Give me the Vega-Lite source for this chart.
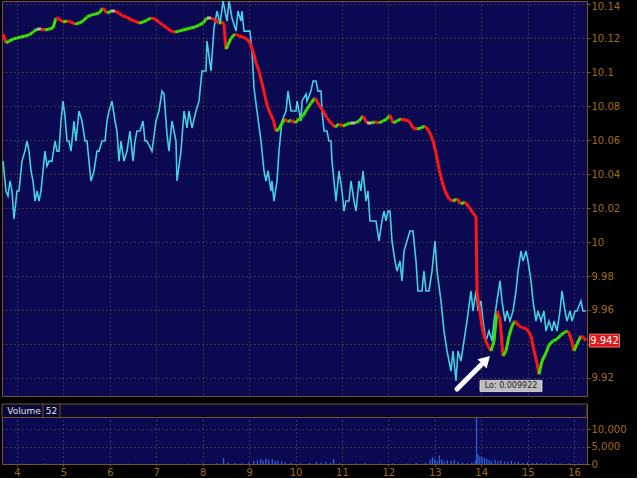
{
  "$schema": "https://vega.github.io/schema/vega-lite/v6.json",
  "background": "#000000",
  "padding": {"left": 1, "top": 0, "right": 10, "bottom": 0},
  "spacing": 6,
  "config": {
    "view": {"fill": "#0b0952", "stroke": "#7a5520", "strokeWidth": 1},
    "axis": {"labelFont": "DejaVu Sans", "labelFontSize": 10, "labelColor": "#a06b14", "tickColor": "#7a5520", "domainColor": "#7a5520", "gridColor": "#6e5a3c", "gridDash": [1, 3], "gridWidth": 1, "labelOverlap": false, "labelBound": false}
  },
  "datasets": {
    "price": [
      {"t":3.698,"price":10.1224},{"t":3.763,"price":10.1171},{"t":3.828,"price":10.1182},{"t":3.914,"price":10.1194},{"t":4.0,"price":10.12},{"t":4.086,"price":10.1206},{"t":4.172,"price":10.1212},{"t":4.259,"price":10.1218},{"t":4.345,"price":10.1235},{"t":4.431,"price":10.1253},{"t":4.517,"price":10.1253},{"t":4.603,"price":10.1247},{"t":4.689,"price":10.1253},{"t":4.776,"price":10.1259},{"t":4.84,"price":10.1318},{"t":4.905,"price":10.1312},{"t":4.991,"price":10.1294},{"t":5.077,"price":10.13},{"t":5.163,"price":10.1294},{"t":5.249,"price":10.1282},{"t":5.336,"price":10.1288},{"t":5.422,"price":10.13},{"t":5.508,"price":10.1324},{"t":5.594,"price":10.1335},{"t":5.68,"price":10.1341},{"t":5.766,"price":10.1347},{"t":5.853,"price":10.1376},{"t":5.939,"price":10.1347},{"t":6.025,"price":10.1359},{"t":6.111,"price":10.1359},{"t":6.197,"price":10.1347},{"t":6.283,"price":10.1329},{"t":6.37,"price":10.1324},{"t":6.456,"price":10.1306},{"t":6.542,"price":10.13},{"t":6.628,"price":10.1288},{"t":6.714,"price":10.1294},{"t":6.801,"price":10.1306},{"t":6.887,"price":10.1318},{"t":6.973,"price":10.1312},{"t":7.059,"price":10.1294},{"t":7.145,"price":10.1276},{"t":7.231,"price":10.1259},{"t":7.318,"price":10.1241},{"t":7.404,"price":10.1235},{"t":7.49,"price":10.1241},{"t":7.576,"price":10.1247},{"t":7.662,"price":10.1253},{"t":7.748,"price":10.1259},{"t":7.835,"price":10.1265},{"t":7.921,"price":10.1276},{"t":8.007,"price":10.1288},{"t":8.093,"price":10.1318},{"t":8.179,"price":10.1318},{"t":8.265,"price":10.1306},{"t":8.352,"price":10.1288},{"t":8.416,"price":10.1294},{"t":8.459,"price":10.1282},{"t":8.502,"price":10.1135},{"t":8.545,"price":10.1159},{"t":8.61,"price":10.12},{"t":8.696,"price":10.1224},{"t":8.782,"price":10.1212},{"t":8.869,"price":10.1206},{"t":8.955,"price":10.1194},{"t":9.019,"price":10.1171},{"t":9.084,"price":10.1124},{"t":9.149,"price":10.1053},{"t":9.213,"price":10.1006},{"t":9.278,"price":10.0935},{"t":9.342,"price":10.0859},{"t":9.386,"price":10.0806},{"t":9.45,"price":10.0759},{"t":9.515,"price":10.0724},{"t":9.58,"price":10.0653},{"t":9.644,"price":10.0665},{"t":9.709,"price":10.07},{"t":9.773,"price":10.0724},{"t":9.838,"price":10.0706},{"t":9.903,"price":10.0718},{"t":9.989,"price":10.07},{"t":10.075,"price":10.0724},{"t":10.161,"price":10.0741},{"t":10.247,"price":10.0782},{"t":10.333,"price":10.0818},{"t":10.42,"price":10.0847},{"t":10.506,"price":10.0806},{"t":10.592,"price":10.0771},{"t":10.678,"price":10.0729},{"t":10.764,"price":10.07},{"t":10.851,"price":10.0676},{"t":10.937,"price":10.0694},{"t":11.023,"price":10.0682},{"t":11.109,"price":10.0694},{"t":11.195,"price":10.07},{"t":11.281,"price":10.07},{"t":11.368,"price":10.0712},{"t":11.454,"price":10.0741},{"t":11.54,"price":10.07},{"t":11.626,"price":10.07},{"t":11.712,"price":10.0706},{"t":11.798,"price":10.07},{"t":11.885,"price":10.0712},{"t":11.971,"price":10.0724},{"t":12.035,"price":10.0747},{"t":12.1,"price":10.07},{"t":12.186,"price":10.0712},{"t":12.272,"price":10.0724},{"t":12.358,"price":10.0718},{"t":12.445,"price":10.0712},{"t":12.531,"price":10.0671},{"t":12.617,"price":10.0665},{"t":12.703,"price":10.0671},{"t":12.789,"price":10.0682},{"t":12.875,"price":10.0653},{"t":12.962,"price":10.0594},{"t":13.026,"price":10.0524},{"t":13.091,"price":10.0429},{"t":13.155,"price":10.0359},{"t":13.22,"price":10.03},{"t":13.306,"price":10.0253},{"t":13.392,"price":10.0241},{"t":13.479,"price":10.0253},{"t":13.565,"price":10.0224},{"t":13.651,"price":10.0235},{"t":13.737,"price":10.0206},{"t":13.823,"price":10.0171},{"t":13.888,"price":10.0147},{"t":13.909,"price":9.9712},{"t":13.952,"price":9.9624},{"t":14.017,"price":9.9506},{"t":14.082,"price":9.9429},{"t":14.146,"price":9.9388},{"t":14.211,"price":9.9359},{"t":14.276,"price":9.9418},{"t":14.34,"price":9.9594},{"t":14.405,"price":9.9547},{"t":14.469,"price":9.9329},{"t":14.534,"price":9.9359},{"t":14.599,"price":9.9447},{"t":14.663,"price":9.9506},{"t":14.728,"price":9.9535},{"t":14.814,"price":9.9506},{"t":14.9,"price":9.9494},{"t":14.986,"price":9.9488},{"t":15.073,"price":9.9447},{"t":15.137,"price":9.9359},{"t":15.202,"price":9.9288},{"t":15.245,"price":9.9222},{"t":15.309,"price":9.93},{"t":15.396,"price":9.9347},{"t":15.46,"price":9.9394},{"t":15.546,"price":9.9418},{"t":15.633,"price":9.9429},{"t":15.719,"price":9.9453},{"t":15.805,"price":9.9471},{"t":15.869,"price":9.9476},{"t":15.934,"price":9.9435},{"t":15.999,"price":9.9359},{"t":16.063,"price":9.94},{"t":16.149,"price":9.9447},{"t":16.214,"price":9.9435},{"t":16.258,"price":9.942}
    ],
    "ind": [
      {"t":3.698,"ind":10.0476},{"t":3.72,"ind":10.0418},{"t":3.763,"ind":10.03},{"t":3.806,"ind":10.0271},{"t":3.849,"ind":10.0359},{"t":3.892,"ind":10.03},{"t":3.935,"ind":10.0135},{"t":4.0,"ind":10.03},{"t":4.043,"ind":10.03},{"t":4.108,"ind":10.0476},{"t":4.172,"ind":10.0535},{"t":4.215,"ind":10.0594},{"t":4.259,"ind":10.0535},{"t":4.302,"ind":10.0418},{"t":4.345,"ind":10.0359},{"t":4.388,"ind":10.0241},{"t":4.431,"ind":10.03},{"t":4.474,"ind":10.0241},{"t":4.517,"ind":10.03},{"t":4.56,"ind":10.0418},{"t":4.603,"ind":10.0535},{"t":4.646,"ind":10.0447},{"t":4.689,"ind":10.0476},{"t":4.754,"ind":10.0476},{"t":4.819,"ind":10.0594},{"t":4.862,"ind":10.0535},{"t":4.905,"ind":10.0535},{"t":4.948,"ind":10.0712},{"t":4.991,"ind":10.0829},{"t":5.034,"ind":10.0741},{"t":5.077,"ind":10.0594},{"t":5.12,"ind":10.0594},{"t":5.163,"ind":10.0535},{"t":5.228,"ind":10.0712},{"t":5.271,"ind":10.0594},{"t":5.336,"ind":10.0771},{"t":5.4,"ind":10.0712},{"t":5.465,"ind":10.0594},{"t":5.508,"ind":10.0594},{"t":5.551,"ind":10.0476},{"t":5.594,"ind":10.0359},{"t":5.659,"ind":10.0418},{"t":5.723,"ind":10.0535},{"t":5.766,"ind":10.0535},{"t":5.831,"ind":10.0594},{"t":5.896,"ind":10.0594},{"t":5.939,"ind":10.0712},{"t":5.982,"ind":10.0771},{"t":6.046,"ind":10.0829},{"t":6.111,"ind":10.0712},{"t":6.154,"ind":10.0653},{"t":6.197,"ind":10.0476},{"t":6.24,"ind":10.0594},{"t":6.305,"ind":10.0476},{"t":6.37,"ind":10.0535},{"t":6.434,"ind":10.0653},{"t":6.499,"ind":10.0476},{"t":6.542,"ind":10.0594},{"t":6.585,"ind":10.0653},{"t":6.65,"ind":10.0653},{"t":6.714,"ind":10.0712},{"t":6.757,"ind":10.0594},{"t":6.8,"ind":10.0594},{"t":6.908,"ind":10.0535},{"t":6.994,"ind":10.0712},{"t":7.059,"ind":10.0771},{"t":7.124,"ind":10.0888},{"t":7.167,"ind":10.0871},{"t":7.231,"ind":10.0635},{"t":7.274,"ind":10.0535},{"t":7.339,"ind":10.0712},{"t":7.425,"ind":10.0594},{"t":7.447,"ind":10.0359},{"t":7.533,"ind":10.0535},{"t":7.598,"ind":10.0771},{"t":7.662,"ind":10.0671},{"t":7.705,"ind":10.0771},{"t":7.77,"ind":10.0671},{"t":7.856,"ind":10.0771},{"t":7.921,"ind":10.0829},{"t":7.985,"ind":10.1006},{"t":8.071,"ind":10.1006},{"t":8.093,"ind":10.1182},{"t":8.179,"ind":10.1006},{"t":8.244,"ind":10.1259},{"t":8.308,"ind":10.1359},{"t":8.373,"ind":10.1282},{"t":8.438,"ind":10.1418},{"t":8.524,"ind":10.13},{"t":8.567,"ind":10.1418},{"t":8.632,"ind":10.1318},{"t":8.718,"ind":10.1241},{"t":8.761,"ind":10.1359},{"t":8.825,"ind":10.13},{"t":8.847,"ind":10.1359},{"t":8.89,"ind":10.1241},{"t":9.019,"ind":10.1241},{"t":9.062,"ind":10.1124},{"t":9.106,"ind":10.0906},{"t":9.17,"ind":10.0771},{"t":9.256,"ind":10.0594},{"t":9.321,"ind":10.0418},{"t":9.364,"ind":10.0359},{"t":9.407,"ind":10.0418},{"t":9.472,"ind":10.03},{"t":9.493,"ind":10.0359},{"t":9.536,"ind":10.0241},{"t":9.601,"ind":10.0359},{"t":9.644,"ind":10.0535},{"t":9.709,"ind":10.0712},{"t":9.795,"ind":10.0771},{"t":9.838,"ind":10.0888},{"t":9.903,"ind":10.0771},{"t":10.011,"ind":10.0771},{"t":10.032,"ind":10.0829},{"t":10.119,"ind":10.0712},{"t":10.14,"ind":10.0829},{"t":10.226,"ind":10.0871},{"t":10.247,"ind":10.0829},{"t":10.333,"ind":10.0888},{"t":10.378,"ind":10.0947},{"t":10.441,"ind":10.0947},{"t":10.485,"ind":10.0888},{"t":10.549,"ind":10.0888},{"t":10.571,"ind":10.0771},{"t":10.614,"ind":10.0653},{"t":10.678,"ind":10.0653},{"t":10.721,"ind":10.0594},{"t":10.764,"ind":10.0594},{"t":10.786,"ind":10.0476},{"t":10.829,"ind":10.0359},{"t":10.872,"ind":10.0241},{"t":10.937,"ind":10.0418},{"t":11.001,"ind":10.03},{"t":11.044,"ind":10.0182},{"t":11.087,"ind":10.0241},{"t":11.152,"ind":10.0241},{"t":11.195,"ind":10.0359},{"t":11.26,"ind":10.0241},{"t":11.303,"ind":10.0182},{"t":11.367,"ind":10.0359},{"t":11.41,"ind":10.03},{"t":11.454,"ind":10.0418},{"t":11.518,"ind":10.0241},{"t":11.561,"ind":10.03},{"t":11.604,"ind":10.0124},{"t":11.734,"ind":10.0124},{"t":11.798,"ind":10.0006},{"t":11.863,"ind":10.0124},{"t":11.906,"ind":10.0182},{"t":11.949,"ind":10.0124},{"t":11.992,"ind":10.0182},{"t":12.035,"ind":10.0182},{"t":12.078,"ind":10.0006},{"t":12.143,"ind":9.9888},{"t":12.186,"ind":9.9829},{"t":12.251,"ind":9.9888},{"t":12.294,"ind":9.9771},{"t":12.337,"ind":9.9947},{"t":12.401,"ind":10.0006},{"t":12.466,"ind":10.0065},{"t":12.531,"ind":10.0065},{"t":12.595,"ind":9.9888},{"t":12.638,"ind":9.9712},{"t":12.724,"ind":9.9712},{"t":12.767,"ind":9.9829},{"t":12.811,"ind":9.9712},{"t":12.875,"ind":9.9712},{"t":12.94,"ind":9.9829},{"t":13.005,"ind":10.0006},{"t":13.048,"ind":9.9829},{"t":13.134,"ind":9.9653},{"t":13.198,"ind":9.9476},{"t":13.263,"ind":9.9359},{"t":13.349,"ind":9.9241},{"t":13.392,"ind":9.9359},{"t":13.457,"ind":9.9182},{"t":13.5,"ind":9.9359},{"t":13.565,"ind":9.93},{"t":13.629,"ind":9.9418},{"t":13.694,"ind":9.9535},{"t":13.78,"ind":9.9712},{"t":13.823,"ind":9.9594},{"t":13.888,"ind":9.9712},{"t":13.931,"ind":9.9594},{"t":13.995,"ind":9.9653},{"t":14.039,"ind":9.9535},{"t":14.103,"ind":9.9418},{"t":14.168,"ind":9.9476},{"t":14.233,"ind":9.9418},{"t":14.276,"ind":9.9535},{"t":14.34,"ind":9.9653},{"t":14.405,"ind":9.9771},{"t":14.448,"ind":9.9653},{"t":14.512,"ind":9.9535},{"t":14.556,"ind":9.9594},{"t":14.62,"ind":9.9535},{"t":14.685,"ind":9.9594},{"t":14.75,"ind":9.9712},{"t":14.793,"ind":9.9829},{"t":14.857,"ind":9.9947},{"t":14.9,"ind":9.9888},{"t":14.965,"ind":9.9947},{"t":15.008,"ind":9.9888},{"t":15.073,"ind":9.9771},{"t":15.116,"ind":9.9653},{"t":15.18,"ind":9.9535},{"t":15.223,"ind":9.9594},{"t":15.288,"ind":9.9535},{"t":15.352,"ind":9.9594},{"t":15.396,"ind":9.9476},{"t":15.46,"ind":9.9535},{"t":15.525,"ind":9.9476},{"t":15.568,"ind":9.9535},{"t":15.633,"ind":9.9476},{"t":15.697,"ind":9.9594},{"t":15.74,"ind":9.9712},{"t":15.805,"ind":9.9594},{"t":15.848,"ind":9.9535},{"t":15.913,"ind":9.9594},{"t":15.956,"ind":9.9535},{"t":16.02,"ind":9.9594},{"t":16.063,"ind":9.9594},{"t":16.149,"ind":9.9653},{"t":16.192,"ind":9.9594},{"t":16.257,"ind":9.9594}
    ],
    "volume": [
      {"t":3.9,"v":60},{"t":4.1,"v":100},{"t":4.6,"v":150},{"t":5.0,"v":80},{"t":5.9,"v":100},{"t":6.4,"v":60},{"t":7.0,"v":80},{"t":7.7,"v":100},{"t":8.0,"v":120},{"t":8.3,"v":200},{"t":8.45,"v":1700},{"t":8.55,"v":400},{"t":8.7,"v":300},{"t":8.85,"v":200},{"t":9.0,"v":500},{"t":9.1,"v":900},{"t":9.18,"v":1100},{"t":9.25,"v":1400},{"t":9.3,"v":1000},{"t":9.36,"v":1600},{"t":9.42,"v":1200},{"t":9.5,"v":1400},{"t":9.56,"v":900},{"t":9.62,"v":1000},{"t":9.7,"v":700},{"t":9.78,"v":500},{"t":9.9,"v":300},{"t":10.1,"v":200},{"t":10.3,"v":300},{"t":10.45,"v":500},{"t":10.55,"v":400},{"t":10.65,"v":600},{"t":10.75,"v":300},{"t":10.82,"v":1400},{"t":10.95,"v":200},{"t":11.3,"v":150},{"t":11.5,"v":200},{"t":11.8,"v":100},{"t":12.1,"v":150},{"t":12.4,"v":100},{"t":12.6,"v":300},{"t":12.8,"v":400},{"t":12.9,"v":1200},{"t":12.95,"v":2000},{"t":13.0,"v":1500},{"t":13.05,"v":900},{"t":13.1,"v":2400},{"t":13.15,"v":1300},{"t":13.2,"v":800},{"t":13.27,"v":1100},{"t":13.35,"v":900},{"t":13.42,"v":1200},{"t":13.5,"v":600},{"t":13.6,"v":400},{"t":13.7,"v":300},{"t":13.8,"v":500},{"t":13.87,"v":900},{"t":13.9,"v":13200},{"t":13.93,"v":2800},{"t":13.97,"v":2200},{"t":14.02,"v":2000},{"t":14.07,"v":1700},{"t":14.12,"v":1400},{"t":14.17,"v":1100},{"t":14.22,"v":900},{"t":14.3,"v":1200},{"t":14.36,"v":800},{"t":14.42,"v":1000},{"t":14.5,"v":700},{"t":14.57,"v":600},{"t":14.65,"v":900},{"t":14.72,"v":500},{"t":14.8,"v":600},{"t":14.9,"v":400},{"t":15.0,"v":500},{"t":15.1,"v":300},{"t":15.2,"v":400},{"t":15.3,"v":300},{"t":15.4,"v":200},{"t":15.5,"v":300},{"t":15.6,"v":200},{"t":15.7,"v":250},{"t":15.9,"v":200},{"t":16.1,"v":150},{"t":16.2,"v":100}
    ]
  },
  "vconcat": [
    {
      "width": 585,
      "height": 395,
      "layer": [
        {
          "data": {"name": "ind"},
          "mark": {"type": "line", "color": "#44cfe4", "strokeWidth": 1.6, "clip": true},
          "encoding": {
            "x": {"field": "t", "type": "quantitative", "scale": {"domain": [3.677, 16.279], "nice": false, "zero": false}, "axis": {"values": [4,5,6,7,8,9,10,11,12,13,14,15,16], "tickCount": 20, "labels": false, "ticks": false, "domain": false, "grid": true, "title": null}},
            "y": {"field": "ind", "type": "quantitative", "scale": {"domain": [9.9094, 10.1418], "nice": false, "zero": false}, "axis": {"orient": "right", "values": [9.92,9.94,9.96,9.98,10,10.02,10.04,10.06,10.08,10.1,10.12,10.14], "tickCount": 20, "labelExpr": "abs(datum.value - 9.94) < 0.001 ? '' : format(datum.value, '~g')", "labelOverlap": false, "labelFlush": 6, "labelFlushOffset": 3, "tickSize": 3, "labelPadding": 1, "grid": true, "title": null}}
          }
        },
        {
          "data": {"name": "price"},
          "transform": [
            {"window": [{"op": "lag", "field": "price", "as": "prev"}, {"op": "lag", "field": "t", "as": "prevT"}], "sort": [{"field": "t"}]},
            {"filter": "datum.prev != null"}
          ],
          "mark": {"type": "rule", "strokeWidth": 3, "strokeCap": "butt", "clip": true},
          "encoding": {
            "x": {"field": "prevT", "type": "quantitative"},
            "x2": {"field": "t"},
            "y": {"field": "prev", "type": "quantitative"},
            "y2": {"field": "price"},
            "color": {"condition": [{"test": "abs(datum.price - datum.prev) < 0.0004", "value": "#c9b3b3"}, {"test": "datum.price > datum.prev", "value": "#3ce000"}], "value": "#ff1616"}
          }
        },
        {
          "data": {"values": [{"mark": "arrow"}]},
          "mark": {"type": "rule", "color": "#ffffff", "strokeWidth": 5, "strokeCap": "round"},
          "encoding": {
            "x": {"datum": 13.479, "type": "quantitative"},
            "x2": {"datum": 13.995},
            "y": {"datum": 9.9135, "type": "quantitative"},
            "y2": {"datum": 9.9276}
          }
        },
        {
          "data": {"values": [{"mark": "arrowhead"}]},
          "mark": {"type": "point", "shape": "triangle-up", "angle": 45, "size": 170, "filled": true, "color": "#ffffff", "opacity": 1},
          "encoding": {
            "x": {"datum": 14.103, "type": "quantitative"},
            "y": {"datum": 9.9306, "type": "quantitative"}
          }
        },
        {
          "data": {"values": [{"label": "Lo: 0.009922"}]},
          "mark": {"type": "point", "shape": "M-1,-0.18L1,-0.18L1,0.18L-1,0.18Z", "size": 3844, "filled": true, "fill": "#bdbdbd", "stroke": "#e6e6e6", "strokeWidth": 0.8, "opacity": 1},
          "encoding": {
            "x": {"datum": 14.642, "type": "quantitative"},
            "y": {"datum": 9.9153, "type": "quantitative"}
          }
        },
        {
          "data": {"values": [{"label": "Lo: 0.009922"}]},
          "mark": {"type": "text", "font": "DejaVu Sans", "fontSize": 8, "color": "#262626", "align": "center", "baseline": "middle"},
          "encoding": {
            "x": {"datum": 14.642, "type": "quantitative"},
            "y": {"datum": 9.9153, "type": "quantitative"},
            "text": {"field": "label"}
          }
        },
        {
          "data": {"values": [{"price": 9.942}]},
          "mark": {"type": "point", "shape": "M-1,-0.433L1,-0.433L1,0.433L-1,0.433Z", "size": 900, "filled": true, "fill": "#e01818", "stroke": "#ff8c8c", "strokeWidth": 0.8, "opacity": 1},
          "encoding": {
            "x": {"datum": 16.656, "type": "quantitative"},
            "y": {"field": "price", "type": "quantitative"}
          }
        },
        {
          "data": {"values": [{"price": 9.942}]},
          "mark": {"type": "text", "font": "DejaVu Sans", "fontSize": 10, "color": "#ffffff", "align": "center", "baseline": "middle"},
          "encoding": {
            "x": {"datum": 16.656, "type": "quantitative"},
            "y": {"field": "price", "type": "quantitative"},
            "text": {"field": "price", "type": "quantitative", "format": ".3f"}
          }
        }
      ]
    },
    {
      "width": 585,
      "height": 60,
      "layer": [
        {
          "data": {"name": "volume"},
          "mark": {"type": "rule", "color": "#2e5fd8", "strokeWidth": 1.3},
          "encoding": {
            "x": {"field": "t", "type": "quantitative", "scale": {"domain": [3.677, 16.279], "nice": false, "zero": false}, "axis": {"values": [4,5,6,7,8,9,10,11,12,13,14,15,16], "tickCount": 20, "labelExpr": "format(datum.value, 'd')", "labelOverlap": false, "grid": true, "domain": false, "tickSize": 2, "labelPadding": 1, "title": null}},
            "y": {"field": "v", "type": "quantitative", "scale": {"domain": [0, 17150], "nice": false}, "axis": {"orient": "right", "values": [0, 5000, 10000], "tickCount": 10, "labelExpr": "format(datum.value, ',')", "labelOverlap": false, "tickSize": 3, "labelPadding": 1, "grid": true, "title": null}},
            "y2": {"datum": 0}
          }
        },
        {
          "data": {"values": [{"panel": "Volume"}]},
          "mark": {"type": "rect", "fill": "#07073a", "stroke": "#7a5520", "strokeWidth": 1},
          "encoding": {
            "y": {"datum": 13300, "type": "quantitative"},
            "y2": {"datum": 17150}
          }
        },
        {
          "data": {"values": [{"label": "Volume"}]},
          "mark": {"type": "text", "font": "DejaVu Sans", "fontSize": 9, "color": "#e0e0e0", "align": "center", "baseline": "middle"},
          "encoding": {
            "x": {"datum": 4.151, "type": "quantitative"},
            "y": {"datum": 15200, "type": "quantitative"},
            "text": {"field": "label"}
          }
        },
        {
          "data": {"values": [{"label": "52"}]},
          "mark": {"type": "text", "font": "DejaVu Sans", "fontSize": 9, "color": "#e0e0e0", "align": "center", "baseline": "middle"},
          "encoding": {
            "x": {"datum": 4.743, "type": "quantitative"},
            "y": {"datum": 15200, "type": "quantitative"},
            "text": {"field": "label"}
          }
        },
        {
          "data": {"values": [{"sep": "a"}]},
          "mark": {"type": "rule", "color": "#7a5520", "strokeWidth": 1},
          "encoding": {
            "x": {"datum": 4.56, "type": "quantitative"},
            "y": {"datum": 13300, "type": "quantitative"},
            "y2": {"datum": 17150}
          }
        },
        {
          "data": {"values": [{"sep": "b"}]},
          "mark": {"type": "rule", "color": "#7a5520", "strokeWidth": 1},
          "encoding": {
            "x": {"datum": 4.926, "type": "quantitative"},
            "y": {"datum": 13300, "type": "quantitative"},
            "y2": {"datum": 17150}
          }
        }
      ]
    }
  ]
}
